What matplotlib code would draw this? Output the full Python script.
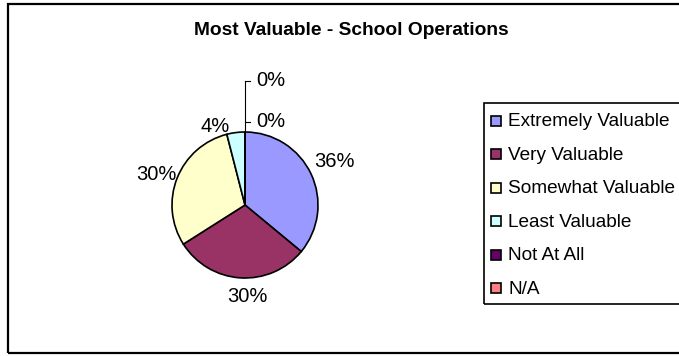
import matplotlib
matplotlib.use('Agg')
import matplotlib.pyplot as plt
from matplotlib.patches import Rectangle

plt.rcParams['font.family'] = ['Liberation Sans', 'DejaVu Sans']

# survey answers, share of responses (%)
categories = ['Extremely Valuable', 'Very Valuable', 'Somewhat Valuable',
              'Least Valuable', 'Not At All', 'N/A']
shares = [36, 30, 30, 4, 0, 0]
colors = ['#9999FF', '#993366', '#FFFFCC', '#CCFFFF', '#660066', '#FF8080']

# label offsets in pie-radius units, one per slice
label_pos = [(1.23, 0.60), (0.03, -1.26), (-1.21, 0.42), (-0.41, 1.07),
             (0.36, 1.14), (0.36, 1.70)]

W, H = 679, 356
fig = plt.figure(figsize=(W / 100, H / 100), dpi=100)


def px(x, y):
    # pixel position (from top-left) -> figure fraction
    return x / W, 1 - y / H


# chart area frame
fig.patches.append(Rectangle(px(8, 353), 682 / W, 349 / H, transform=fig.transFigure,
                             fill=False, edgecolor='black', linewidth=1.6))

fig.text(*px(351, 35), 'Most Valuable - School Operations', ha='center', va='baseline',
         fontsize=13.8, fontweight='bold')

# pie
cx, cy, r = 245, 205, 73
ax = fig.add_axes([(cx - r) / W, (H - cy - r) / H, 2 * r / W, 2 * r / H])
ax.pie(shares, colors=colors, startangle=90, counterclock=False, radius=1,
       wedgeprops=dict(edgecolor='black', linewidth=1.2))
ax.set_xlim(-1, 1)
ax.set_ylim(-1, 1)
ax.set_aspect('equal')
ax.axis('off')

for (lx, ly), v in zip(label_pos, shares):
    ax.text(lx, ly, f'{v}%', ha='center', va='center', fontsize=14.5, clip_on=False)

# leader lines for the zero slices
ax.plot([0, 0], [1.0, 1.70], color='black', linewidth=0.8, clip_on=False)
for ly in (label_pos[4][1], label_pos[5][1]):
    ax.plot([0, 0.07], [ly, ly], color='black', linewidth=0.8, clip_on=False)

# legend
fig.patches.append(Rectangle(px(484, 304), 220 / W, 201 / H, transform=fig.transFigure,
                             fill=False, edgecolor='black', linewidth=1.2))
for i, (name, c) in enumerate(zip(categories, colors)):
    yc = 121 + i * 33.4
    fig.patches.append(Rectangle(px(491, yc + 5), 10 / W, 10 / H, transform=fig.transFigure,
                                 facecolor=c, edgecolor='black', linewidth=1.2))
    fig.text(*px(508, yc + 5.5), name, ha='left', va='baseline', fontsize=13.7)

fig.savefig('out.png', dpi=100, facecolor='white')
